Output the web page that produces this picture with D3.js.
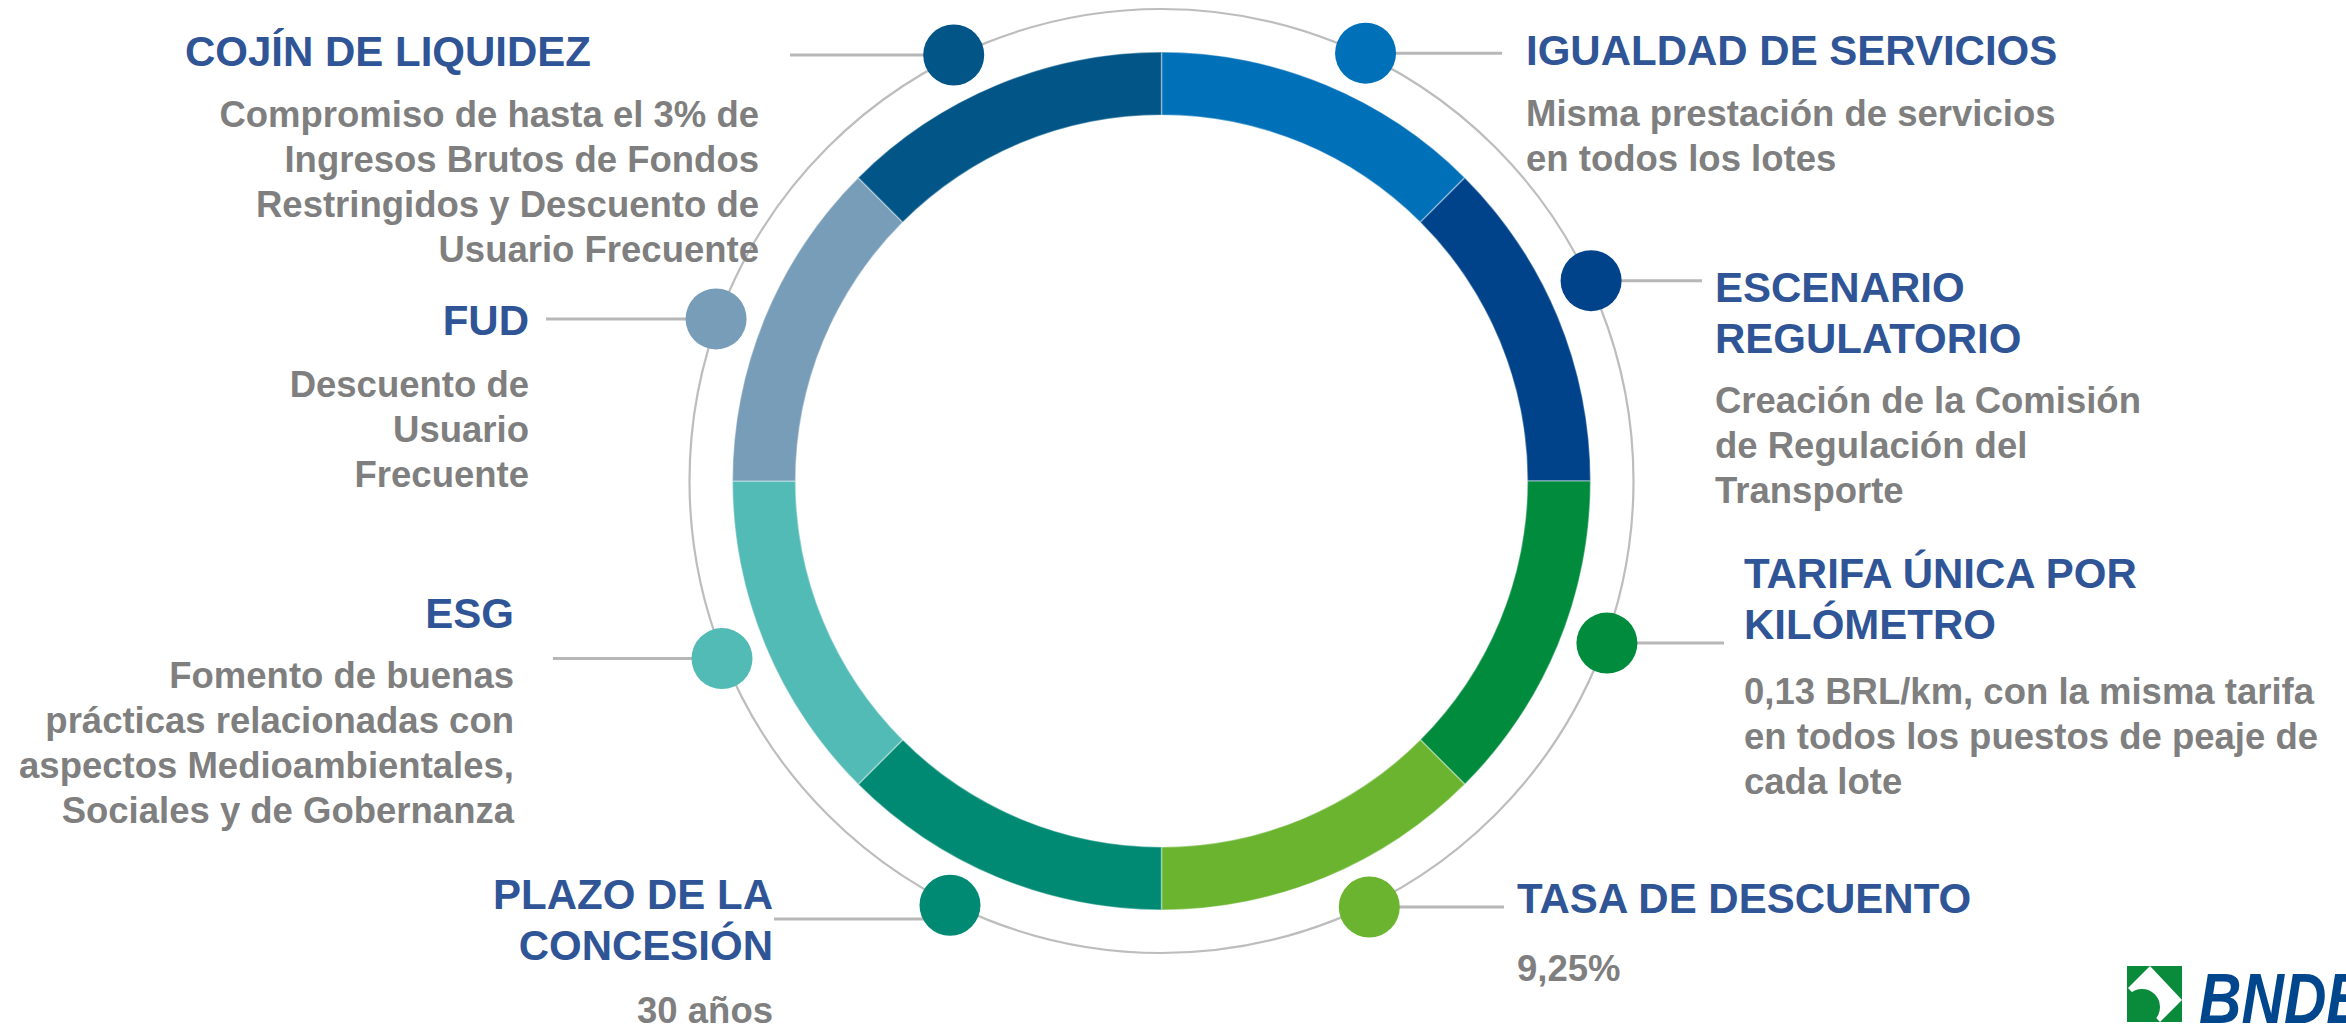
<!DOCTYPE html>
<html>
<head>
<meta charset="utf-8">
<script src="https://cdn.jsdelivr.net/npm/d3@7/dist/d3.min.js"></script>
<style>
  html, body { margin: 0; padding: 0; background: #fff; }
  svg { display: block; font-family: "Liberation Sans", Arial, sans-serif; font-weight: bold; }
</style>
</head>
<body>
<svg id="svg" width="2346" height="1032"></svg>
<script>
// one slice per item, clockwise from 12 o'clock
var titles = [
    ["IGUALDAD DE SERVICIOS"],
    ["ESCENARIO", "REGULATORIO"],
    ["TARIFA ÚNICA POR", "KILÓMETRO"],
    ["TASA DE DESCUENTO"],
    ["PLAZO DE LA", "CONCESIÓN"],
    ["ESG"],
    ["FUD"],
    ["COJÍN DE LIQUIDEZ"]
];
var notes = [
    ["Misma prestación de servicios", "en todos los lotes"],
    ["Creación de la Comisión", "de Regulación del", "Transporte"],
    ["0,13 BRL/km, con la misma tarifa", "en todos los puestos de peaje de", "cada lote"],
    ["9,25%"],
    ["30 años"],
    ["Fomento de buenas", "prácticas relacionadas con", "aspectos Medioambientales,", "Sociales y de Gobernanza"],
    ["Descuento de", "Usuario", "Frecuente"],
    ["Compromiso de hasta el 3% de", "Ingresos Brutos de Fondos", "Restringidos y Descuento de", "Usuario Frecuente"]
];
var shares = [1, 1, 1, 1, 1, 1, 1, 1];
var dotAngles = [25.5, 65, 110, 154, 206.5, 248, 290, 334];   // degrees, clockwise from top

var colors = ["#0070b9", "#00438a", "#008b3d", "#6ab42f", "#008a74", "#53bbb5", "#779db9", "#015687"];

// label blocks: end of leader, text x, anchor, first title baseline, first note baseline
var place = [
    {lx:1502, tx:1526, a:"start", ty:65,  ny:126},
    {lx:1702, tx:1715, a:"start", ty:302, ny:413},
    {lx:1724, tx:1744, a:"start", ty:588, ny:704},
    {lx:1504, tx:1517, a:"start", ty:913, ny:981},
    {lx:774,  tx:773,  a:"end",   ty:909, ny:1023, ly:919},
    {lx:553,  tx:514,  a:"end",   ty:628, ny:688},
    {lx:546,  tx:529,  a:"end",   ty:335, ny:397},
    {lx:790,  tx:759,  a:"end",   ty:66,  ny:127}
];

var svg = d3.select("#svg"),
    defs = svg.append("defs");

var cx = 1161.5, cy = 481,
    r0 = 366, r1 = 429, rg = 472, rd = 474, dotR = 30.5,
    titleStep = 51, noteStep = 45;

var titleCol = "#2f5597", noteCol = "#7f7f7f", lineCol = "#b7b7b7";

var g = svg.append("g").attr("transform", "translate(" + cx + "," + cy + ")");

// thin outer guide circle
g.append("circle").attr("r", rg).attr("fill", "none").attr("stroke", "#bdbdbd").attr("stroke-width", 2.2);

var pie = d3.pie().sort(null).value(d => d).startAngle(0).endAngle(2 * Math.PI);
var arc = d3.arc().innerRadius(r0).outerRadius(r1);

g.selectAll(".seg").data(pie(shares)).enter()
    .append("path").attr("class", "seg")
    .attr("d", arc)
    .attr("fill", (_, i) => colors[i])
    .attr("stroke", "#fff").attr("stroke-opacity", 0.35).attr("stroke-width", 1.5);

var ang = d3.scaleLinear().domain([0, 360]).range([0, 2 * Math.PI]);
var dots = dotAngles.map(a => ({x: rd * Math.sin(ang(a)), y: -rd * Math.cos(ang(a))}));

// leader lines
g.selectAll(".lead").data(dots).enter()
    .append("line").attr("class", "lead")
    .attr("x1", d => d.x)
    .attr("y1", (d, i) => place[i].ly ? place[i].ly - cy : d.y)
    .attr("x2", (_, i) => place[i].lx - cx)
    .attr("y2", (d, i) => place[i].ly ? place[i].ly - cy : d.y)
    .attr("stroke", lineCol).attr("stroke-width", 3);

g.selectAll(".dot").data(dots).enter()
    .append("circle").attr("class", "dot")
    .attr("cx", d => d.x).attr("cy", d => d.y).attr("r", dotR)
    .attr("fill", (_, i) => colors[i]);

// labels
var labels = svg.selectAll(".lab").data(titles).enter()
    .append("g").attr("class", "lab");

labels.each(function (t, i) {
    var p = place[i], sel = d3.select(this);
    sel.selectAll(".ttl").data(t).enter()
        .append("text").attr("class", "ttl")
        .attr("x", p.tx).attr("y", (_, k) => p.ty + k * titleStep)
        .attr("text-anchor", p.a).attr("font-size", 42).attr("fill", titleCol)
        .text(s => s);
    sel.selectAll(".note").data(notes[i]).enter()
        .append("text").attr("class", "note")
        .attr("x", p.tx).attr("y", (_, k) => p.ny + k * noteStep)
        .attr("text-anchor", p.a).attr("font-size", 36.5).attr("fill", noteCol)
        .text(s => s);
});

// COJÍN title sits left of its note block
labels.filter((_, i) => i === 7).select(".ttl").attr("x", 591);

// logo, bottom right (runs off the edge like the original)
defs.append("clipPath").attr("id", "logo-clip")
    .append("rect").attr("width", 55).attr("height", 56);
var logo = svg.append("g").attr("transform", "translate(2127,966)");
var mark = logo.append("g").attr("clip-path", "url(#logo-clip)");
mark.append("rect").attr("width", 55).attr("height", 56).attr("fill", "#0a8a3b");
mark.append("path").attr("d", "M23,0 L55,34 L33,56 L1,22 Z").attr("fill", "#fff");
mark.append("circle").attr("cx", 15).attr("cy", 41).attr("r", 18).attr("fill", "#0a8a3b");
logo.append("text").attr("transform", "translate(72,57) scale(0.84,1)")
    .attr("font-size", 70).attr("font-style", "italic").attr("fill", "#00468c")
    .text("BNDES");
</script>
</body>
</html>
